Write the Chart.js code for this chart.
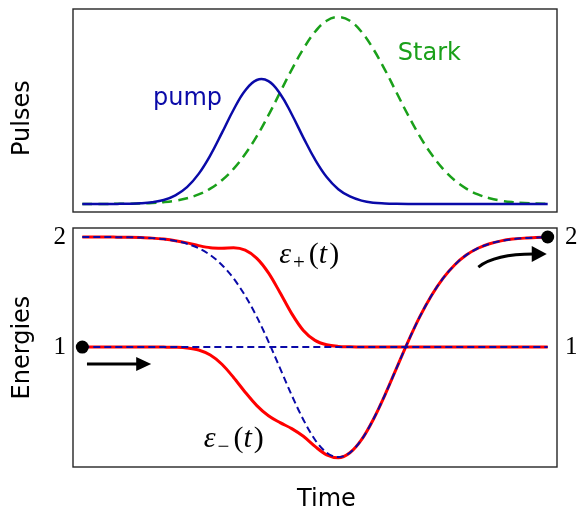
<!DOCTYPE html>
<html><head><meta charset="utf-8">
<script src="https://cdn.jsdelivr.net/npm/chart.js@4.4.1/dist/chart.umd.min.js"></script>
<style>
html,body{margin:0;padding:0;background:#fff;width:578px;height:512px;overflow:hidden}
#top{position:absolute;left:0;top:0;width:578px;height:218px}
#bot{position:absolute;left:0;top:218px;width:578px;height:294px}
</style></head><body>
<div id="top"><canvas id="c1"></canvas></div>
<div id="bot"><canvas id="c2"></canvas></div>
<script>
// ---- data ----
const time = [0,2.5,5,7.5,10,12.5,15,17.5,20,22.5,25,27.5,30,32.5,35,37.5,40,42.5,45,47.5,50,52.5,55,57.5,60,62.5,65,67.5,70,72.5,75,77.5,80,82.5,85,87.5,90,92.5,95,97.5,100];
const pumpPulse = [0,0,0.0001,0.0004,0.0012,0.0034,0.009,0.021,0.046,0.090,0.161,0.260,0.380,0.504,0.607,0.663,0.657,0.590,0.480,0.355,0.238,0.144,0.079,0.040,0.018,0.007,0.003,0.001,0,0,0,0,0,0,0,0,0,0,0,0,0];
const starkPulse = [0,0.0001,0.0003,0.0006,0.0012,0.0025,0.005,0.0096,0.0174,0.0306,0.051,0.082,0.127,0.188,0.267,0.363,0.475,0.597,0.719,0.830,0.921,0.980,1.0,0.980,0.921,0.830,0.719,0.597,0.475,0.363,0.267,0.188,0.127,0.082,0.051,0.0306,0.0174,0.0096,0.005,0.0025,0.0012];
const diabaticFlat = [1,1,1,1,1,1,1,1,1,1,1,1,1,1,1,1,1,1,1,1,1,1,1,1,1,1,1,1,1,1,1,1,1,1,1,1,1,1,1,1,1];
const diabaticStark = [2,1.9998,1.9994,1.9988,1.9976,1.995,1.990,1.981,1.965,1.939,1.898,1.836,1.746,1.624,1.466,1.274,1.050,0.806,0.562,0.340,0.158,0.040,0,0.040,0.158,0.340,0.562,0.806,1.050,1.274,1.466,1.624,1.746,1.836,1.898,1.939,1.965,1.981,1.990,1.995,1.998];
const epsPlus = [2,2,2,1.999,1.998,1.995,1.990,1.981,1.967,1.947,1.922,1.903,1.899,1.902,1.880,1.806,1.674,1.494,1.304,1.151,1.061,1.021,1.006,1.002,1.000,1,1,1,1,1,1,1,1,1,1,1,1,1,1,1,1];
const epsMinus = [1,1,1,1,1,1,1,0.9995,0.998,0.992,0.973,0.927,0.844,0.724,0.590,0.468,0.375,0.313,0.259,0.189,0.097,0.020,-0.006,0.039,0.158,0.340,0.562,0.806,1.050,1.274,1.466,1.624,1.746,1.836,1.898,1.939,1.965,1.981,1.990,1.995,1.998];
const dotTimes = [0,100];
const dotEnergies = [1,2];
const energyTicks = [1,2];

const pts = (ys) => time.map((t,i)=>({x:t,y:ys[i]}));
const BLUE = '#0a0aa8', GREEN = '#1aa01a', RED = '#ff0000';

const framePlugin = {
  id:'frame',
  afterDraw(chart){
    const {ctx, chartArea:a} = chart;
    ctx.save(); ctx.strokeStyle='#262626'; ctx.lineWidth=1.4;
    ctx.strokeRect(a.left, a.top, a.right-a.left, a.bottom-a.top);
    ctx.restore();
  }
};

function arrowHead(ctx, tx, ty, dx, dy, len, half){
  const bx = tx-dx*len, by = ty-dy*len;
  ctx.beginPath(); ctx.moveTo(tx,ty);
  ctx.lineTo(bx-dy*half, by+dx*half);
  ctx.lineTo(bx+dy*half, by-dx*half);
  ctx.closePath(); ctx.fill();
}

function mathLabel(ctx, x, y, sub){
  const big=30, small=21, fam='"Liberation Serif", "DejaVu Serif", serif';
  ctx.fillStyle='#000'; ctx.textBaseline='alphabetic'; ctx.textAlign='left';
  ctx.font=`italic ${big}px ${fam}`; ctx.fillText('ε',x,y); x+=ctx.measureText('ε').width+2;
  ctx.font=`${small}px ${fam}`; ctx.fillText(sub,x,y+6); x+=ctx.measureText(sub).width+4;
  ctx.font=`${big}px ${fam}`; ctx.fillText('(',x,y); x+=ctx.measureText('(').width;
  ctx.font=`italic ${big}px ${fam}`; ctx.fillText('t',x,y); x+=ctx.measureText('t').width+2;
  ctx.font=`${big}px ${fam}`; ctx.fillText(')',x,y);
}

const topLabels = {
  id:'topLabels',
  afterDatasetsDraw(chart){
    const {ctx, scales:{x,y}} = chart;
    ctx.save();
    ctx.font='24px "DejaVu Sans"'; ctx.textBaseline='alphabetic'; ctx.textAlign='left';
    ctx.fillStyle=BLUE; ctx.fillText('pump', x.getPixelForValue(15.2), y.getPixelForValue(0.53));
    ctx.fillStyle=GREEN; ctx.fillText('Stark', x.getPixelForValue(67.8), y.getPixelForValue(0.77));
    ctx.restore();
  }
};

const botLabels = {
  id:'botLabels',
  afterDatasetsDraw(chart){
    const {ctx, scales:{x,y}} = chart;
    ctx.save();
    mathLabel(ctx, x.getPixelForValue(42.3), y.getPixelForValue(1.765), '+');
    mathLabel(ctx, x.getPixelForValue(26.1), y.getPixelForValue(0.09), '\u2212');
    // arrows
    ctx.strokeStyle='#000'; ctx.fillStyle='#000'; ctx.lineWidth=3;
    const ay = y.getPixelForValue(0.845);
    const a0 = x.getPixelForValue(1.0), aTip = x.getPixelForValue(14.8);
    ctx.beginPath(); ctx.moveTo(a0, ay); ctx.lineTo(aTip-13, ay); ctx.stroke();
    arrowHead(ctx, aTip, ay, 1, 0, 15, 7);
    const sx = x.getPixelForValue(85.1), sy = y.getPixelForValue(1.727);
    const cx = x.getPixelForValue(88.7), cy = y.getPixelForValue(1.845);
    const tipX = x.getPixelForValue(99.8), tipY = y.getPixelForValue(1.845);
    ctx.beginPath(); ctx.moveTo(sx,sy); ctx.quadraticCurveTo(cx,cy,tipX-13,tipY); ctx.stroke();
    arrowHead(ctx, tipX, tipY, 1, 0, 15, 8);
    ctx.restore();
  }
};

const common = {
  responsive:true, maintainAspectRatio:false, animation:false, events:[],
  plugins:{legend:{display:false}, tooltip:{enabled:false}}
};

new Chart(document.getElementById('c1'), {
  type:'line',
  data:{datasets:[
    {data:pts(pumpPulse), borderColor:BLUE, borderWidth:2.5, pointRadius:0, tension:0.4, fill:false},
    {data:pts(starkPulse), borderColor:GREEN, borderWidth:2.5, borderDash:[10,6], pointRadius:0, tension:0.4, fill:false}
  ]},
  options:{...common,
    layout:{padding:{top:9,bottom:6,left:0,right:21}},
    scales:{
      x:{type:'linear', min:-2, max:102, display:false},
      y:{min:-0.043, max:1.043, ticks:{display:false}, grid:{display:false, drawTicks:false}, border:{display:false},
         title:{display:true, text:'Pulses  ', color:'#000', font:{family:'DejaVu Sans', size:24}, padding:{top:8,bottom:0}},
         afterFit(s){ s.width=73; s.paddingTop=0; s.paddingBottom=0; }}
    }
  },
  plugins:[framePlugin, topLabels]
});

const yTickOpts = (pad) => ({font:{family:'Liberation Serif', size:25}, color:'#000', padding:pad});

new Chart(document.getElementById('c2'), {
  type:'line',
  data:{datasets:[
    {data:dotTimes.map((t,i)=>({x:t,y:dotEnergies[i]})), showLine:false, pointRadius:6.5, pointBackgroundColor:'#000', pointBorderWidth:0, borderColor:'#000'},
    {data:pts(diabaticFlat), borderColor:BLUE, borderWidth:2, borderDash:[7,4], pointRadius:0, fill:false},
    {data:pts(diabaticStark), borderColor:BLUE, borderWidth:2, borderDash:[7,4], pointRadius:0, cubicInterpolationMode:'monotone', fill:false},
    {data:pts(epsPlus), borderColor:RED, borderWidth:3, pointRadius:0, cubicInterpolationMode:'monotone', fill:false},
    {data:pts(epsMinus), borderColor:RED, borderWidth:3, pointRadius:0, cubicInterpolationMode:'monotone', fill:false}
  ]},
  options:{...common,
    layout:{padding:{top:10,bottom:0,left:0,right:0}},
    scales:{
      x:{type:'linear', min:-2, max:102, ticks:{display:false}, grid:{display:false, drawTicks:false}, border:{display:false},
         title:{display:true, text:'   Time', color:'#000', font:{family:'DejaVu Sans', size:24, lineHeight:1}, padding:0},
         afterFit(s){ s.height=45; s.paddingLeft=0; s.paddingRight=0; }},
      y:{position:'left', min:-0.09, max:2.082, grid:{display:false, drawTicks:false}, border:{display:false},
         afterBuildTicks(s){ s.ticks = energyTicks.map(v=>({value:v})); },
         ticks:yTickOpts(7),
         title:{display:true, text:'Energies', color:'#000', font:{family:'DejaVu Sans', size:24}, padding:{top:8,bottom:0}},
         afterFit(s){ s.width=73; s.paddingTop=0; s.paddingBottom=0; }},
      y2:{position:'right', min:-0.09, max:2.082, grid:{display:false, drawTicks:false}, border:{display:false},
         afterBuildTicks(s){ s.ticks = energyTicks.map(v=>({value:v})); },
         ticks:yTickOpts(8),
         afterFit(s){ s.width=21; s.paddingTop=0; s.paddingBottom=0; }}
    }
  },
  plugins:[framePlugin, botLabels]
});
</script>
</body></html>
